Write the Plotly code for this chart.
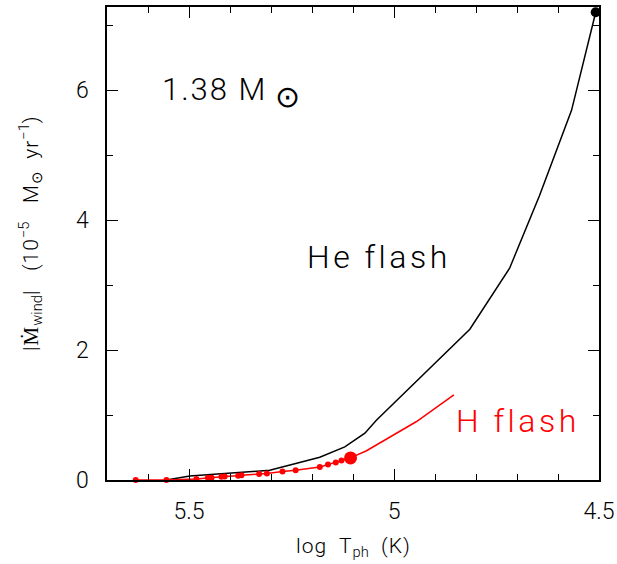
import plotly.graph_objects as go

# He-flash wind mass-loss rate vs photospheric temperature
he_logT = [5.555, 5.498, 5.303, 5.181, 5.120, 5.071, 5.043, 4.815, 4.718, 4.645, 4.567, 4.508]
he_mdot = [0.0, 0.06, 0.15, 0.35, 0.51, 0.72, 0.92, 2.32, 3.26, 4.38, 5.69, 7.20]

# H-flash wind mass-loss rate (model points, then the continuation)
h_logT = [5.630, 5.555, 5.482, 5.454, 5.445, 5.421, 5.413, 5.380, 5.372, 5.329, 5.310,
          5.272, 5.240, 5.181, 5.161, 5.142, 5.128, 5.106, 5.067, 4.945, 4.854]
h_mdot = [0.0, 0.0, 0.015, 0.035, 0.035, 0.05, 0.055, 0.066, 0.072, 0.092, 0.10,
          0.13, 0.15, 0.20, 0.24, 0.27, 0.30, 0.34, 0.45, 0.90, 1.31]
h_last_model = 5.106  # last computed model on the H-flash branch

x_ticks = [5.5, 5.0, 4.5]
x_ticklabels = ["5.5", "5", "4.5"]
y_ticks = [0, 2, 4, 6]

FONT = "Roboto"
W = 300
RED = "#ff0000"


def spaced(text, px):
    return f"<span style='letter-spacing:{px}px'>{text}</span>"


fig = go.Figure()

fig.add_trace(go.Scatter(x=he_logT, y=he_mdot, mode="lines",
                         line=dict(color="black", width=1.5), cliponaxis=False))
fig.add_trace(go.Scatter(x=[he_logT[-1]], y=[he_mdot[-1]], mode="markers",
                         marker=dict(color="black", size=10, opacity=1), cliponaxis=False))

fig.add_trace(go.Scatter(x=h_logT, y=h_mdot, mode="lines",
                         line=dict(color=RED, width=1.5), cliponaxis=False))
mx = [x for x in h_logT if x >= h_last_model]
my = [y for x, y in zip(h_logT, h_mdot) if x >= h_last_model]
fig.add_trace(go.Scatter(x=mx, y=my, mode="markers",
                         marker=dict(color=RED, opacity=1, line=dict(width=0),
                                     size=[6] * (len(mx) - 1) + [13]),
                         cliponaxis=False))

fig.add_annotation(x=5.571, y=5.97, xref="x", yref="y", xanchor="left", yanchor="middle",
                   text=spaced("1.38 M", 2) + "<sub><span style='font-size:30px'> ⊙</span></sub>",
                   showarrow=False,
                   font=dict(family=FONT, size=31, color="black", weight=W))
fig.add_annotation(x=5.218, y=3.43, xref="x", yref="y", xanchor="left", yanchor="middle",
                   text=spaced("He flash", 3.5), showarrow=False,
                   font=dict(family=FONT, size=32, color="black", weight=W))
fig.add_annotation(x=4.854, y=0.91, xref="x", yref="y", xanchor="left", yanchor="middle",
                   text=spaced("H flash", 3.5), showarrow=False,
                   font=dict(family=FONT, size=32, color=RED, weight=W))

# axis titles
fig.add_annotation(x=-0.1565, y=0.52, xref="paper", yref="paper",
                   xanchor="center", yanchor="middle", textangle=-90,
                   text=spaced("|Ṁ", 1) + "<sub>wind</sub>" + spaced("|   (10", 1)
                   + "<sup>−5</sup>" + spaced("   M", 1) + "<sub>⊙</sub>"
                   + spaced("  yr", 1) + "<sup>−1</sup>)",
                   showarrow=False, font=dict(family=FONT, size=21, color="black", weight=W))
fig.add_annotation(x=0.5, y=-0.142, xref="paper", yref="paper",
                   xanchor="center", yanchor="middle",
                   text=spaced("log  T", 1) + "<sub>ph</sub>" + spaced("  (K)", 1),
                   showarrow=False,
                   font=dict(family=FONT, size=21, color="black", weight=W))

axis_common = dict(showline=True, linecolor="black", linewidth=1.5, mirror="allticks",
                   ticks="inside", ticklen=11, tickwidth=1.2, tickcolor="black",
                   showgrid=False, zeroline=False, automargin=False,
                   tickfont=dict(family=FONT, size=23, color="black", weight=W))

fig.update_xaxes(range=[5.7, 4.5], tickvals=x_ticks, ticktext=x_ticklabels,
                 ticklabelstandoff=10,
                 minor=dict(ticks="inside", ticklen=6, tickwidth=1.2, tickcolor="black",
                            dtick=0.1, tick0=4.5, showgrid=False),
                 **axis_common)
fig.update_yaxes(range=[0, 7.28], tickvals=y_ticks,
                 ticklabelstandoff=12,
                 minor=dict(ticks="inside", ticklen=6, tickwidth=1.2, tickcolor="black",
                            dtick=1, tick0=0, showgrid=False),
                 **axis_common)

fig.update_layout(width=617, height=564, showlegend=False,
                  margin=dict(l=107, r=18, t=7, b=84),
                  plot_bgcolor="white", paper_bgcolor="white")

fig.write_html("out.html")
